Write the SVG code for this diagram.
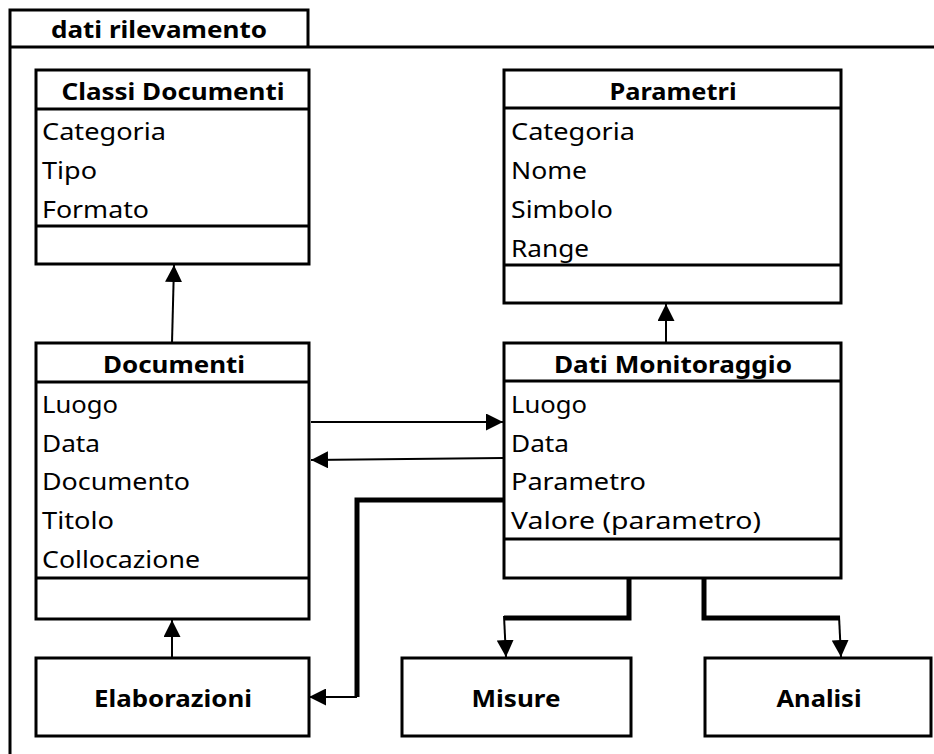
<svg xmlns="http://www.w3.org/2000/svg" width="934" height="754" viewBox="0 0 934 754">
<style>
.frame{fill:none;stroke:#000;stroke-width:3}
.box{fill:#fff;stroke:#000;stroke-width:3}
.sep{stroke:#000;stroke-width:3}
.t{font-family:"Noto Sans","Open Sans",sans-serif;font-size:24px;fill:#000}
.h{font-family:"Noto Sans","Open Sans",sans-serif;font-size:24px;font-weight:bold;fill:#000;text-anchor:middle}
.thin{fill:none;stroke:#000;stroke-width:2}
.thick{fill:none;stroke:#000;stroke-width:5}
</style>
<defs>
<marker id="arr" markerUnits="userSpaceOnUse" markerWidth="17" markerHeight="17" viewBox="0 0 17 17" refX="17" refY="8.5" orient="auto">
<path d="M0,0 L17,8.5 L0,17 z" fill="#000"/>
</marker>
</defs>
<rect width="934" height="754" fill="#fff"/>
<g id="frame">
<path class="frame" d="M10,754 L10,10 L308,10 L308,47"/>
<line class="frame" x1="10" y1="47" x2="934" y2="47"/>
<text class="h" x="159" y="38" textLength="216" lengthAdjust="spacingAndGlyphs">dati rilevamento</text>
</g>
<g id="classi-documenti">
<rect class="box" x="36" y="70" width="273" height="194"/>
<line class="sep" x1="36" y1="109" x2="309" y2="109"/>
<line class="sep" x1="36" y1="226" x2="309" y2="226"/>
<text class="h" x="173" y="100" textLength="223" lengthAdjust="spacingAndGlyphs">Classi Documenti</text>
<text class="t" x="42" y="140" textLength="124" lengthAdjust="spacingAndGlyphs">Categoria</text>
<text class="t" x="42" y="179" textLength="55" lengthAdjust="spacingAndGlyphs">Tipo</text>
<text class="t" x="42" y="218" textLength="107" lengthAdjust="spacingAndGlyphs">Formato</text>
</g>
<g id="parametri">
<rect class="box" x="504" y="70" width="337" height="233"/>
<line class="sep" x1="504" y1="108" x2="841" y2="108"/>
<line class="sep" x1="504" y1="265" x2="841" y2="265"/>
<text class="h" x="673" y="100" textLength="127" lengthAdjust="spacingAndGlyphs">Parametri</text>
<text class="t" x="511" y="140" textLength="124" lengthAdjust="spacingAndGlyphs">Categoria</text>
<text class="t" x="511" y="179" textLength="76" lengthAdjust="spacingAndGlyphs">Nome</text>
<text class="t" x="511" y="218" textLength="102" lengthAdjust="spacingAndGlyphs">Simbolo</text>
<text class="t" x="511" y="257" textLength="78" lengthAdjust="spacingAndGlyphs">Range</text>
</g>
<g id="documenti">
<rect class="box" x="36" y="343" width="273" height="276"/>
<line class="sep" x1="36" y1="382" x2="309" y2="382"/>
<line class="sep" x1="36" y1="578" x2="309" y2="578"/>
<text class="h" x="174" y="373" textLength="142" lengthAdjust="spacingAndGlyphs">Documenti</text>
<text class="t" x="42" y="413" textLength="76" lengthAdjust="spacingAndGlyphs">Luogo</text>
<text class="t" x="42" y="452" textLength="58" lengthAdjust="spacingAndGlyphs">Data</text>
<text class="t" x="42" y="490" textLength="148" lengthAdjust="spacingAndGlyphs">Documento</text>
<text class="t" x="42" y="529" textLength="72" lengthAdjust="spacingAndGlyphs">Titolo</text>
<text class="t" x="42" y="568" textLength="158" lengthAdjust="spacingAndGlyphs">Collocazione</text>
</g>
<g id="dati-monitoraggio">
<rect class="box" x="504" y="343" width="337" height="235"/>
<line class="sep" x1="504" y1="381" x2="841" y2="381"/>
<line class="sep" x1="504" y1="539" x2="841" y2="539"/>
<text class="h" x="673" y="373" textLength="238" lengthAdjust="spacingAndGlyphs">Dati Monitoraggio</text>
<text class="t" x="511" y="413" textLength="76" lengthAdjust="spacingAndGlyphs">Luogo</text>
<text class="t" x="511" y="452" textLength="58" lengthAdjust="spacingAndGlyphs">Data</text>
<text class="t" x="511" y="490" textLength="135" lengthAdjust="spacingAndGlyphs">Parametro</text>
<text class="t" x="511" y="529" textLength="250" lengthAdjust="spacingAndGlyphs">Valore (parametro)</text>
</g>
<g id="elaborazioni">
<rect class="box" x="36" y="658" width="273" height="78"/>
<text class="h" x="173" y="707" textLength="158" lengthAdjust="spacingAndGlyphs">Elaborazioni</text>
</g>
<g id="misure">
<rect class="box" x="402" y="658" width="229" height="78"/>
<text class="h" x="516" y="707" textLength="89" lengthAdjust="spacingAndGlyphs">Misure</text>
</g>
<g id="analisi">
<rect class="box" x="705" y="658" width="226" height="78"/>
<text class="h" x="819" y="707" textLength="85" lengthAdjust="spacingAndGlyphs">Analisi</text>
</g>
<g id="connectors">
<line class="thin" x1="172" y1="343" x2="174" y2="265" marker-end="url(#arr)"/>
<line class="thin" x1="311" y1="422" x2="503" y2="422" marker-end="url(#arr)"/>
<line class="thin" x1="503" y1="458" x2="311" y2="460" marker-end="url(#arr)"/>
<line class="thin" x1="666" y1="343" x2="666" y2="304" marker-end="url(#arr)"/>
<line class="thin" x1="172" y1="658" x2="172" y2="620" marker-end="url(#arr)"/>
<polyline class="thick" points="503,500 357,500 357,697"/>
<line class="thin" x1="357" y1="697" x2="309" y2="697" marker-end="url(#arr)"/>
<polyline class="thick" points="629,578 629,618 504,618"/>
<line class="thin" x1="504" y1="616" x2="506" y2="657" marker-end="url(#arr)"/>
<polyline class="thick" points="704,578 704,618 840,618"/>
<line class="thin" x1="839" y1="616" x2="841" y2="657" marker-end="url(#arr)"/>
</g>
</svg>
